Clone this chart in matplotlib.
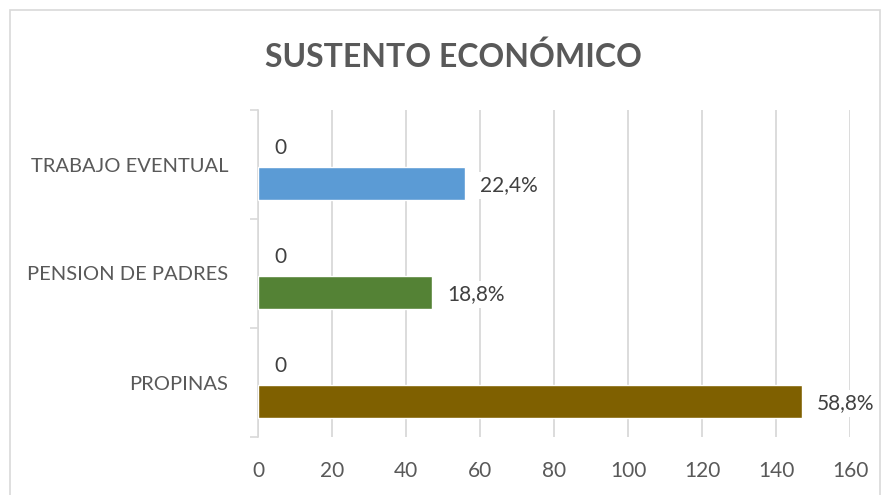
import matplotlib
matplotlib.use("Agg")
import matplotlib.pyplot as plt
from matplotlib.patches import Rectangle
import numpy as np

# ---- data ----
categories = ["PROPINAS", "PENSION DE PADRES", "TRABAJO EVENTUAL"]
zero_series = [0, 0, 0]
values = [147, 47, 56]
pct_labels = ["58,8%", "18,8%", "22,4%"]
bar_colors = ["#7F6000", "#548235", "#5B9BD5"]
x_ticks = [0, 20, 40, 60, 80, 100, 120, 140, 160]
title = "SUSTENTO ECONÓMICO"

FONT = ["Lato", "DejaVu Sans"]
plt.rcParams["font.family"] = FONT
TXT = "#595959"

fig = plt.figure(figsize=(8.85, 4.95), dpi=100)
fig.patch.set_facecolor("white")
W, H = 885, 495
ax = fig.add_axes([258 / W, 1 - 437 / H, (850 - 258) / W, (437 - 110) / H])

y = np.arange(len(categories))
off = 0.175
h = 0.30

ax.barh(y + off, zero_series, height=h, color=bar_colors, zorder=3)
ax.barh(y - off, values, height=h, color=bar_colors, edgecolor="white",
        linewidth=1.0, zorder=3)

for yi, v in zip(y, zero_series):
    ax.annotate(str(v), (v, yi + off), xytext=(16, -3), textcoords="offset pixels",
                ha="left", va="center", fontsize=15, color="#404040", zorder=5,
                bbox=dict(boxstyle="square,pad=0.15", fc="white", ec="none"))
for yi, v, lab in zip(y, values, pct_labels):
    ax.annotate(lab, (v, yi - off), xytext=(15, -2), textcoords="offset pixels",
                ha="left", va="center", fontsize=15, color="#404040", zorder=5,
                bbox=dict(boxstyle="square,pad=0.15", fc="white", ec="none"))

ax.set_xlim(0, 160)
ax.set_ylim(-0.5, len(categories) - 0.5)
ax.set_xticks(x_ticks)
ax.set_xticklabels([str(t) for t in x_ticks], fontsize=15, color=TXT)
ax.set_yticks(y)
ax.set_yticklabels(categories, fontsize=14.5, color=TXT)
ax.set_yticks(np.arange(-0.5, len(categories)), minor=True)
ax.tick_params(axis="y", which="major", length=0, pad=21.5)
ax.tick_params(axis="y", which="minor", length=6, color="#D9D9D9", width=1.2)
ax.tick_params(axis="x", length=0, pad=17)

ax.grid(axis="x", color="#D9D9D9", linewidth=1.3, zorder=0)
for s in ["top", "right", "bottom"]:
    ax.spines[s].set_visible(False)
ax.spines["left"].set_color("#D9D9D9")
ax.spines["left"].set_linewidth(1.2)

fig.text(453 / W, 1 - 57 / H, title, ha="center", va="center",
         fontsize=23, fontweight="bold", color=TXT)

fig.patches.append(Rectangle((10 / W, -0.05), (880 - 10) / W, 1.05 - 10 / H,
                             transform=fig.transFigure, fill=False,
                             edgecolor="#D9D9D9", linewidth=1.2))

fig.savefig("out.png", dpi=100, facecolor="white")
